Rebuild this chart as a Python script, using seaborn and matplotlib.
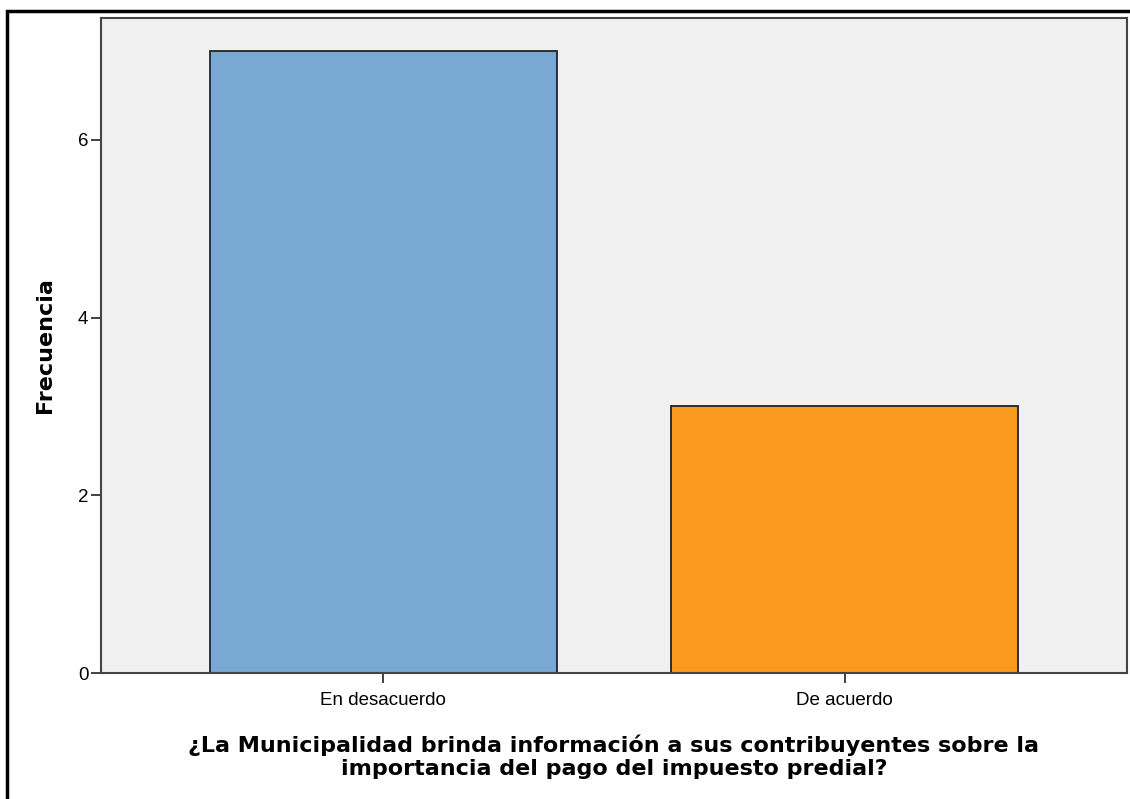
import matplotlib
matplotlib.use('Agg')
import matplotlib.pyplot as plt
import seaborn as sns
import pandas as pd

# %%
# Values
categorias = ['En desacuerdo', 'De acuerdo']
frecuencias = [7, 3]
colores = ['#79A8D5', '#F99A1F']
y_ticks = [0, 2, 4, 6]
x_titulo = ('¿La Municipalidad brinda información a sus contribuyentes sobre la\n'
            'importancia del pago del impuesto predial?')
y_titulo = 'Frecuencia'

df = pd.DataFrame({'respuesta': categorias, 'frecuencia': frecuencias})

# %%
sns.set_style('white')
plt.rcParams['font.family'] = ['Liberation Sans', 'DejaVu Sans']
plt.rcParams['text.color'] = 'black'

fig = plt.figure(figsize=(11.3, 7.99), dpi=100)
ax = fig.add_axes([101 / 1130, 1 - 673 / 799, 1026 / 1130, 655 / 799])
ax.set_facecolor('#F0F0F0')

sns.barplot(data=df, x='respuesta', y='frecuencia', hue='respuesta',
            palette=colores, saturation=1, width=0.752, edgecolor='#222222',
            linewidth=1.3, legend=False, ax=ax)

ax.set_xlim(-0.612, 1.612)
ax.set_ylim(0, 7.37)
ax.set_yticks(y_ticks)
ax.tick_params(axis='both', direction='out', length=7.5, width=1.3, color='#333333',
               labelsize=13.5, labelcolor='black', left=True, bottom=True)
ax.tick_params(axis='y', pad=1.5)
ax.tick_params(axis='x', pad=6)
for sp in ax.spines.values():
    sp.set_color('#444444')
    sp.set_linewidth(1.5)

ax.set_xlabel(x_titulo, fontsize=16, fontweight='bold', family='DejaVu Sans',
              linespacing=1.2, color='black')
ax.xaxis.set_label_coords(0.5, -(734 - 673) / 655)
ax.set_ylabel(y_titulo, fontsize=16, fontweight='bold', family='DejaVu Sans',
              color='black')
ax.yaxis.set_label_coords(-(101 - 55) / 1026, 0.5)

# outer frame around the whole picture (runs off right and bottom)
fig.patches.append(plt.Rectangle((7 / 1130, -0.05), 1.1, 1.05 - 11 / 799,
                                 transform=fig.transFigure, fill=False,
                                 edgecolor='black', linewidth=2.5))

fig.savefig('out.png', dpi=100)
